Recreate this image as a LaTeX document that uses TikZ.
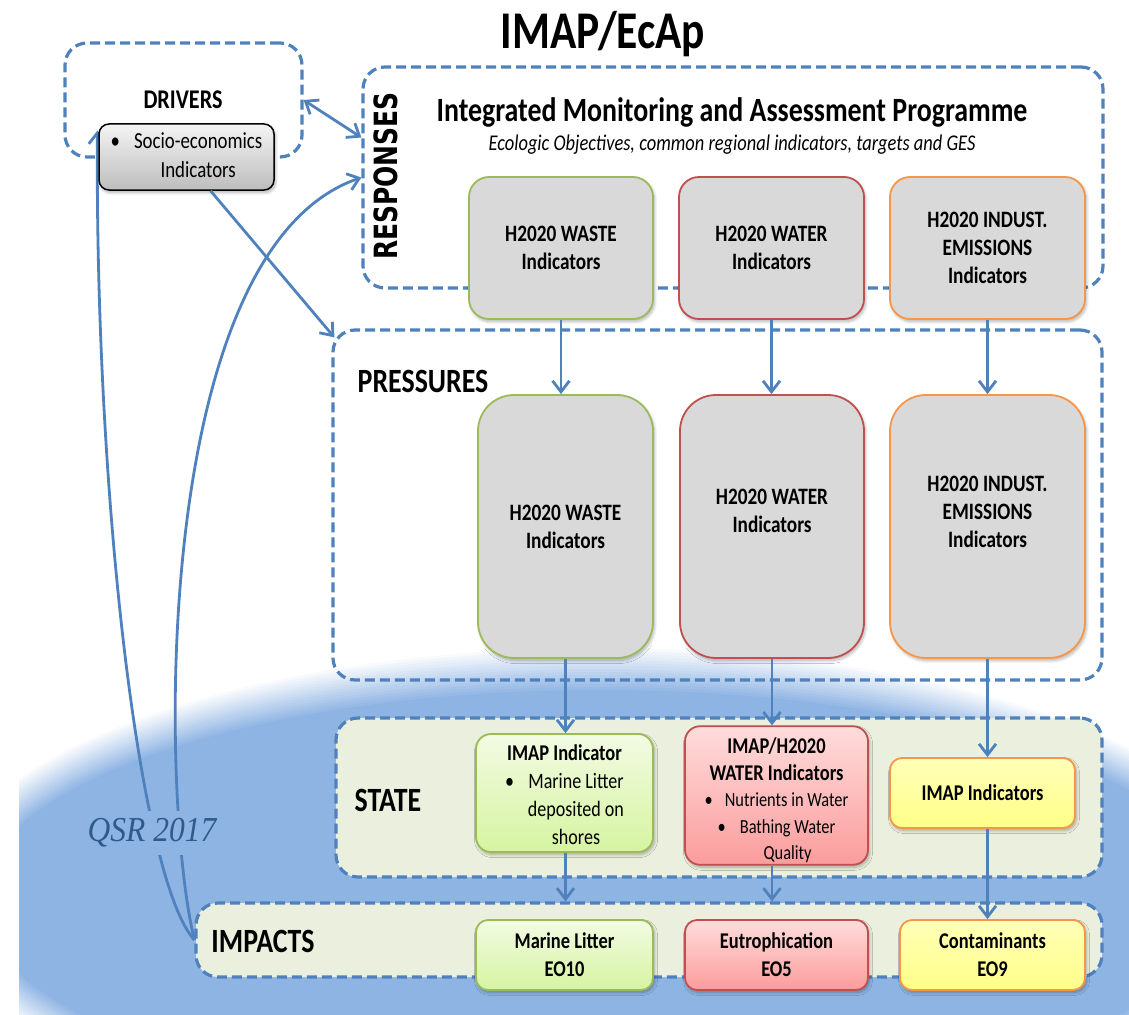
\documentclass[tikz,border=0pt]{standalone}
\usepackage{fontspec}
\setmainfont{Carlito}[FakeStretch=0.82]
\newfontfamily\respfont{DejaVu Sans}[FakeStretch=0.78]
\newfontfamily\qsrfont{Liberation Serif}[FakeStretch=0.9]
\usetikzlibrary{arrows.meta,shadows.blur,calc}

\definecolor{ablue}{HTML}{4F81BD}
\definecolor{bgblue}{HTML}{8EB4E3}
\definecolor{panel}{HTML}{EBF0DE}
\definecolor{grayfill}{HTML}{D9D9D9}
\definecolor{gborder}{HTML}{9BBB59}
\definecolor{rborder}{HTML}{C0504D}
\definecolor{oborder}{HTML}{F79646}
\definecolor{qsrcol}{HTML}{2E5A8C}
\definecolor{gtop}{HTML}{F2FBE3}
\definecolor{gbot}{HTML}{D6F4A0}
\definecolor{rtop}{HTML}{FFDCDC}
\definecolor{rbot}{HTML}{FB9C9C}
\definecolor{ytop}{HTML}{FFFFB8}
\definecolor{ybot}{HTML}{FFFF88}
\definecolor{stop}{HTML}{F4F4F4}
\definecolor{sbot}{HTML}{BDBDBD}

\newcommand\bitem[1]{\textbullet\hspace{14pt}\begin{tabular}[t]{@{}c@{}}#1\end{tabular}}
\newcommand\upby[2]{\raisebox{#1}[\height][\depth]{\begin{tabular}{@{}c@{}}#2\end{tabular}}}

\tikzset{
  container/.style={draw=ablue, line width=3.2pt, dash pattern=on 10pt off 5pt,
    rounded corners=22pt, inner sep=0pt},
  flow/.style={draw=ablue, line width=2.8pt,
    -{Straight Barb[length=11pt,width=17pt]}},
  twoway/.style={draw=ablue, line width=2.8pt,
    {Straight Barb[length=11pt,width=17pt]}-{Straight Barb[length=11pt,width=17pt]}},
  lab/.style={font=\fontsize{34}{38}\selectfont\bfseries},
  hbox/.style={rounded corners=20pt, line width=1.8pt, align=center, inner sep=3pt,
    font=\fontsize{22.5}{28}\selectfont\bfseries,
    blur shadow={shadow xshift=1.5pt, shadow yshift=-2.5pt, shadow blur steps=8,
      shadow blur radius=3pt, shadow opacity=30}},
  hfont/.style={font=\fontsize{23.5}{28}\selectfont\bfseries},
  wastebox/.style={hbox, hfont, draw=gborder, fill=grayfill},
  waterbox/.style={hbox, hfont, draw=rborder, fill=grayfill},
  indbox/.style={hbox, hfont, draw=oborder, fill=grayfill},
  greenbox/.style={hbox, draw=gborder, top color=gtop, bottom color=gbot},
  redbox/.style={hbox, draw=rborder, top color=rtop, bottom color=rbot},
  yelbox/.style={hbox, draw=oborder, top color=ytop, bottom color=ybot},
}

\begin{document}
\begin{tikzpicture}[x=1pt,y=-1pt]
\useasboundingbox (0,0) rectangle (1129,1014);

% background glow
\begin{scope}
  \clip (19,600) rectangle (1129,1014);
  \foreach \i in {0,...,15}{
    \pgfmathsetmacro\rx{665-3*\i}
    \pgfmathsetmacro\ry{255-3*\i}
    \pgfmathtruncatemacro\pc{\i*100/15}
    \fill[bgblue!\pc!white] (600,900) ellipse [x radius=\rx pt, y radius=\ry pt];
  }
\end{scope}

% containers
\node[container, minimum width=237pt, minimum height=114pt] (drv) at (183.5,100) {};
\node[container, minimum width=740pt, minimum height=221pt] (resp) at (733,177.5) {};
\node[container, minimum width=769pt, minimum height=350pt] (press) at (717.5,505) {};
\node[container, fill=panel, minimum width=766pt, minimum height=159pt] (state) at (719,797.5) {};
\node[container, fill=panel, minimum width=906pt, minimum height=74pt] (imp) at (649,940) {};

% labels
\node[font=\fontsize{53}{58}\selectfont\bfseries] (title) at (603,34) {IMAP/EcAp};
\node[font=\fontsize{27}{30}\selectfont\bfseries] (drvlab) at (183,100) {DRIVERS};
\node[font=\respfont\bfseries\fontsize{32}{36}\selectfont, rotate=90] (resplab) at (386,176) {RESPONSES};
\node[font=\fontsize{34}{38}\selectfont\bfseries] (imaplab) at (732,112) {Integrated Monitoring and Assessment Programme};
\node[font=\fontsize{22.5}{26}\selectfont\itshape] (sublab) at (732,145) {Ecologic Objectives, common regional indicators, targets and GES};
\node[lab] (presslab) at (423,381) {PRESSURES};
\node[lab] (statelab) at (388,800) {STATE};
\node[lab] (implab) at (263,941) {IMPACTS};

% curves from impacts (QSR)
\draw[flow] (imp.west) .. controls (140,880) and (95,500) .. ($(drv.south west)+(34,-28)$);
\draw[flow] (imp.west) .. controls (160,800) and (150,250) .. (resp.west);

% socio-economic box
\node[rounded corners=10pt, draw=black, line width=1.5pt, top color=stop, bottom color=sbot,
  minimum width=175pt, minimum height=66pt, inner sep=2pt,
  font=\fontsize{23}{29}\selectfont,
  blur shadow={shadow xshift=1.5pt, shadow yshift=-2.5pt, shadow blur steps=8, shadow blur radius=3pt, shadow opacity=30}]
  (soc) at (186.5,157) {\bitem{Socio-economics\\Indicators}};

% arrows from drivers
\draw[twoway] (drv.east) -- ($(resp.west)+(0,-40)$);
\draw[flow] ($(soc.south)+(24,0)$) -- ($(press.north west)+(3,9)$);

% responses boxes
\node[wastebox, minimum width=184pt, minimum height=142pt] (rw) at (561,248) {H2020 WASTE\\Indicators};
\node[waterbox, minimum width=185pt, minimum height=142pt] (ra) at (771.5,248) {H2020 WATER\\Indicators};
\node[indbox, minimum width=195pt, minimum height=142pt] (ri) at (987.5,248) {H2020 INDUST.\\EMISSIONS\\Indicators};

% pressures boxes
\node[wastebox, rounded corners=36pt, minimum width=175pt, minimum height=263pt] (pw) at (565.5,526.5) {H2020 WASTE\\Indicators};
\node[waterbox, rounded corners=36pt, minimum width=184pt, minimum height=263pt] (pa) at (772,526.5) {\upby{13.5pt}{H2020 WATER\\Indicators}};
\node[indbox, rounded corners=36pt, minimum width=195pt, minimum height=263pt] (pi) at (987.5,526.5) {\upby{12.5pt}{H2020 INDUST.\\EMISSIONS\\Indicators}};

% state boxes
\node[greenbox, rounded corners=15pt, minimum width=177pt, minimum height=106pt,
  font=\fontsize{22}{28}\selectfont] (sg) at (564.5,793)
  {\upby{-4pt}{\textbf{\fontsize{22.5}{28}\selectfont IMAP Indicator}\\\bitem{Marine Litter\\deposited on\\shores}}};
\node[redbox, rounded corners=15pt, minimum width=183pt, minimum height=131pt,
  font=\fontsize{20}{26.5}\selectfont] (sr) at (776.5,795.5)
  {\upby{-6pt}{{\fontsize{22.5}{26.5}\selectfont\bfseries IMAP/H2020}\\{\fontsize{22.5}{26.5}\selectfont\bfseries WATER Indicators}\\\textbullet\hspace{12pt}Nutrients in Water\\\bitem{Bathing Water\\Quality}}};
\node[yelbox, rounded corners=12pt, minimum width=185pt, minimum height=70pt] (sy) at (982.5,793) {IMAP Indicators};

% impact boxes
\node[greenbox, rounded corners=12pt, minimum width=177pt, minimum height=70pt] (ig) at (564.5,955) {Marine Litter\\EO10};
\node[redbox, rounded corners=12pt, minimum width=183pt, minimum height=70pt] (ir) at (776.5,955) {Eutrophication\\EO5};
\node[yelbox, rounded corners=12pt, minimum width=185pt, minimum height=70pt] (iy) at (992.5,955) {Contaminants\\EO9};

% vertical flows
\draw[flow] (rw.south) -- (rw.south |- pw.north);
\draw[flow] (ra.south) -- (ra.south |- pa.north);
\draw[flow] (ri.south) -- (ri.south |- pi.north);
\draw[flow] (pw.south) -- (pw.south |- sg.north);
\draw[flow] (pa.south) -- (pa.south |- sr.north);
\draw[flow] (pi.south) -- (pi.south |- sy.north);
\draw[flow] (pw.south |- sg.south) -- (pw.south |- imp.north);
\draw[flow] (pa.south |- sr.south) -- (pa.south |- imp.north);
\draw[flow] (pi.south |- sy.south) -- (pi.south |- iy.north);

% QSR label
\node[font=\qsrfont\itshape\fontsize{35}{40}\selectfont, text=qsrcol, fill=bgblue,
  inner xsep=2pt, inner ysep=8pt] (qsr) at (152,833) {QSR 2017};
\end{tikzpicture}
\end{document}
